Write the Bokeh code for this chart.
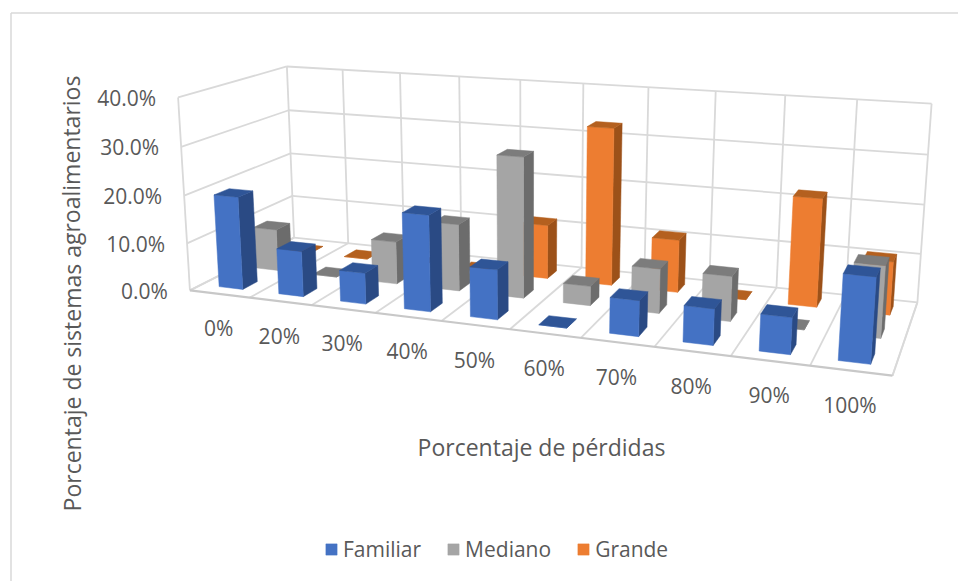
import numpy as np
from bokeh.embed import file_html
from bokeh.resources import INLINE
from bokeh.plotting import figure
from bokeh.models import Legend, LegendItem
from bokeh.core.properties import value

categories = ["0%", "20%", "30%", "40%", "50%", "60%", "70%", "80%", "90%", "100%"]
familiar = [19.5, 9.5, 6.4, 19.5, 10.0, 0.0, 7.0, 7.0, 7.0, 16.0]
mediano = [9.0, 0.0, 9.0, 14.0, 29.0, 4.0, 9.0, 9.0, 0.0, 14.0]
grande = [0.0, 0.0, 0.0, 0.0, 11.5, 33.0, 11.0, 0.0, 22.0, 10.7]
z_ticks = [0, 10, 20, 30, 40]
z_labels = ["0.0%", "10.0%", "20.0%", "30.0%", "40.0%"]

series = [
    ("Familiar", familiar, "#4472C4", "#2A4A84", "#2F5597"),
    ("Mediano", mediano, "#A5A5A5", "#6C6C6C", "#7C7C7C"),
    ("Grande", grande, "#ED7D31", "#9C5119", "#B4601F"),
]

INK = "#595959"
GRID = "#D9D9D9"
FONT = value("Open Sans")
W, H = 958, 581

# Camera for the 3D box: world (category, depth, percent) to page pixels,
# solved by direct linear transform from the corners of the box.
anchors = [
    ((0, 0, 0), (190, 290)), ((0, 0, 40), (177, 97)),
    ((0, 3, 0), (293, 237)), ((0, 3, 40), (287, 66)),
    ((10, 0, 0), (892, 375)), ((10, 3, 0), (917, 302)),
    ((10, 3, 40), (931, 103)),
]
rows = []
rhs = []
for (a, b, c), (u, v) in anchors:
    rows.append([a, b, c, 1, 0, 0, 0, 0, -u * a, -u * b, -u * c])
    rows.append([0, 0, 0, 0, a, b, c, 1, -v * a, -v * b, -v * c])
    rhs += [u, v]
sol = np.linalg.lstsq(np.array(rows, float), np.array(rhs, float), rcond=None)[0]
P = np.append(sol, 1.0).reshape(3, 4)


def project(a, b, c):
    q = P @ np.array([a, b, c, 1.0])
    return q[0] / q[2], q[1] / q[2]


p = figure(width=W, height=H, x_range=(0, W), y_range=(H, 0),
           output_backend="svg", toolbar_location=None, min_border=0)
p.axis.visible = False
p.grid.visible = False
p.outline_line_color = None
p.background_fill_color = "white"
p.border_fill_color = "white"

# Frame around the whole chart
p.line([10.5, 10.5], [12.5, H], line_color=GRID, line_width=1.5)
p.line([10.5, W], [12.5, 12.5], line_color=GRID, line_width=1.5)


def seg(start, end, width=1.8, color=GRID):
    a = project(*start)
    b = project(*end)
    p.line([a[0], b[0]], [a[1], b[1]], line_color=color, line_width=width)


# Walls and floor
for z in z_ticks:
    seg((0, 0, z), (0, 3, z))
    seg((0, 3, z), (10, 3, z))
for i in range(11):
    seg((i, 3, 0), (i, 3, 40))
    seg((i, 0, 0), (i, 3, 0))
seg((0, 0, 0), (0, 0, 40))
seg((10, 0, 0), (10, 3, 0))
seg((0, 0, 0), (10, 0, 0), width=2.2, color="#C8C8C8")

# Bars, far row first so nearer rows paint over them
BAR = 0.4
front_faces = {}
for d in range(2, -1, -1):
    name, vals, c_front, c_side, c_top = series[d]
    for i, v in enumerate(vals):
        x0, x1 = i + 0.5 - BAR / 2, i + 0.5 + BAR / 2
        y0, y1 = d + 0.5 - BAR / 2, d + 0.5 + BAR / 2
        faces = [
            (c_side, [(x1, y0, 0), (x1, y1, 0), (x1, y1, v), (x1, y0, v)]),
            (c_front, [(x0, y0, 0), (x1, y0, 0), (x1, y0, v), (x0, y0, v)]),
            (c_top, [(x0, y0, v), (x1, y0, v), (x1, y1, v), (x0, y1, v)]),
        ]
        for color, corners in faces:
            pts = [project(*c) for c in corners]
            r = p.patch([q[0] for q in pts], [q[1] for q in pts],
                        fill_color=color, line_color=color, line_width=0.5)
            if color == c_front:
                front_faces.setdefault(name, r)

# Tick labels
for z, label in zip(z_ticks, z_labels):
    u, v = project(0, 0, z)
    p.text([u - 22], [v + 0.5], text=[label], text_font=FONT, text_font_size="21px",
           text_color=INK, text_align="right", text_baseline="middle")
for i, label in enumerate(categories):
    u, v = project(i + 0.5, 0, 0)
    p.text([u - 1], [v + 34.5], text=[label], text_font=FONT, text_font_size="21px",
           text_color=INK, text_align="center", text_baseline="middle")

# Axis titles
p.text([541], [446], text=["Porcentaje de pérdidas"], text_font=FONT,
       text_font_size="23px", text_color=INK, text_align="center", text_baseline="middle")
p.text([71], [293], text=["Porcentaje de sistemas agroalimentarios"], text_font=FONT,
       text_font_size="23px", text_color=INK, text_align="center", text_baseline="middle",
       angle=[np.pi / 2])

legend = Legend(
    items=[LegendItem(label=s[0], renderers=[front_faces[s[0]]]) for s in series],
    orientation="horizontal", location=(324, 18),
    background_fill_alpha=0, border_line_color=None,
    glyph_width=14, glyph_height=14, label_standoff=5, spacing=25,
    label_text_font="Open Sans", label_text_font_size="21px", label_text_color=INK,
    padding=0, margin=0,
)
p.add_layout(legend, "center")

open("out.html", "w").write(file_html(p, INLINE))
